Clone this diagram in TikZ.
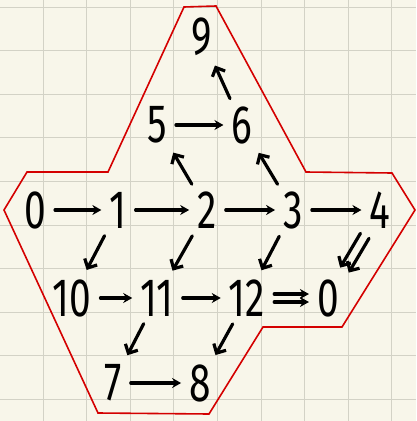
\documentclass[tikz,border=0pt]{standalone}
\usepackage{fontspec}
\setmainfont{Fira Sans}[FakeStretch=0.72]
\usetikzlibrary{arrows.meta}
\definecolor{paper}{HTML}{F8F6EA}
\definecolor{gridline}{HTML}{D3D2C6}
\definecolor{outline}{HTML}{D40000}
\tikzset{
  num/.style={inner sep=3pt, font=\fontsize{54}{54}\selectfont},
  arr/.style={line width=3.2pt, line cap=round, -{Stealth[length=9pt, width=10pt]}, shorten <=6pt, shorten >=5pt},
  darr/.style={line width=3.2pt, line cap=round, -{Straight Barb[length=7pt, width=14pt, line width=3.2pt]}, shorten <=5pt, shorten >=7pt}
}
\begin{document}
\begin{tikzpicture}[x=1pt, y=-1pt]
\useasboundingbox (0,0) rectangle (416,421);
\fill[paper] (0,0) rectangle (416,421);
% grid paper
\foreach \gx in {43,86.6,130.2,173.8,217.4,261,304.6,348.2,391.8}
  \draw[gridline, line width=1pt] (\gx,0) -- (\gx,421);
\foreach \gy in {7,50.6,94.2,137.8,181.4,225,268.6,312.2,355.8,399.4}
  \draw[gridline, line width=1pt] (0,\gy) -- (416,\gy);
% red border
\draw[outline, line width=1.6pt, line join=miter] (184,7) -- (216,6) -- (306,172) -- (392,173) -- (415,210) -- (342,327) -- (263,327) -- (209,414) -- (98,413) -- (4,210) -- (27,172) -- (108,172) -- cycle;
% numbers
\node[num] (v9) at (202,37) {9};
\node[num] (v5) at (157,125) {5};
\node[num] (v6) at (242,125) {6};
\node[num] (v0) at (35,210) {0};
\node[num] (v1) at (118,210) {1};
\node[num] (v2) at (207,210) {2};
\node[num] (v3) at (293,210) {3};
\node[num] (v4) at (380,210) {4};
\node[num] (v10) at (72,298) {10};
\node[num] (v11) at (157,298) {11};
\node[num] (v12) at (247,298) {12};
\node[num] (v0b) at (328,298) {0};
\node[num] (v7) at (113,383) {7};
\node[num] (v8) at (200,383) {8};
% rows
\draw[arr] (v0) -- (v1);
\draw[arr] (v1) -- (v2);
\draw[arr] (v2) -- (v3);
\draw[arr] (v3) -- (v4);
\draw[arr] (v5) -- (v6);
\draw[arr] (v10) -- (v11);
\draw[arr] (v11) -- (v12);
\draw[arr] (v7) -- (v8);
\draw[arr, transform canvas={yshift=4pt}] (v12) -- (v0b);
\draw[arr, transform canvas={yshift=-4pt}] (v12) -- (v0b);
% diagonals
\draw[darr] (v6) -- (v9);
\draw[darr] (v2) -- (v5);
\draw[darr] (v3) -- (v6);
\draw[darr] (v1) -- (v10);
\draw[darr] (v2) -- (v11);
\draw[darr] (v3) -- (v12);
\draw[darr] (v11) -- (v7);
\draw[darr] (v12) -- (v8);
\draw[darr, transform canvas={xshift=4.3pt, yshift=-2.5pt}] (v4) -- (v0b);
\draw[darr, transform canvas={xshift=-4.3pt, yshift=2.5pt}] (v4) -- (v0b);
\end{tikzpicture}
\end{document}
